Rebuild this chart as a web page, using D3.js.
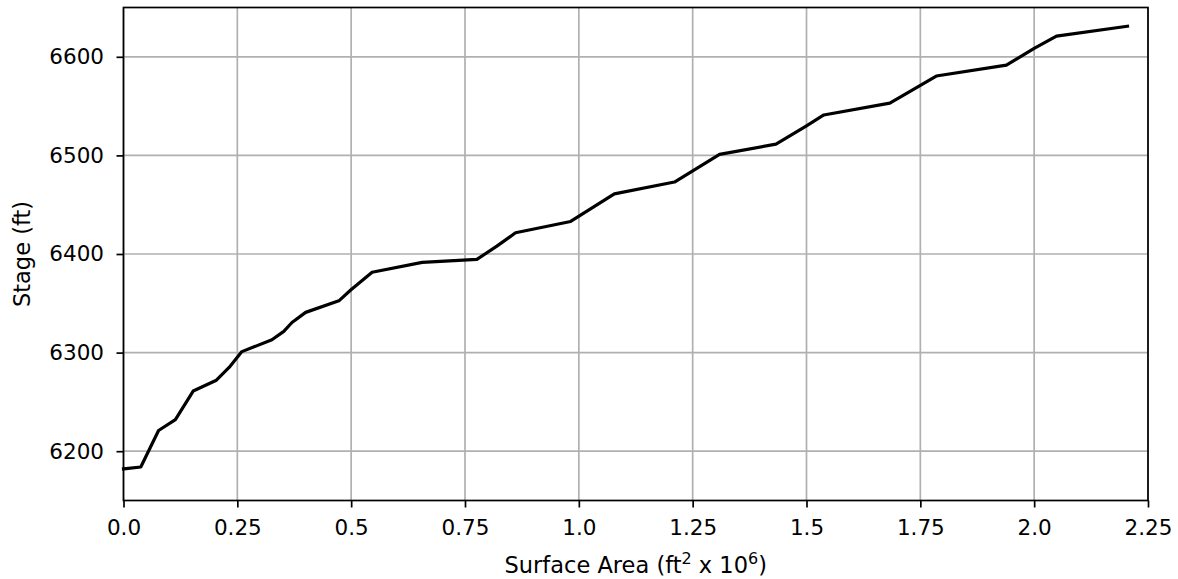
<!DOCTYPE html>
<html>
<head>
<meta charset="utf-8">
<script src="https://cdn.jsdelivr.net/npm/d3@7"></script>
<style>
  html, body { margin: 0; padding: 0; background: #fff; }
  svg { display: block; font-family: "DejaVu Sans", sans-serif; }
</style>
</head>
<body>
<svg id="chart" width="1178" height="579"></svg>
<script>
// Stage–surface area relation (area in millions of ft²)
const surfaceArea = [0.000, 0.038, 0.077, 0.114, 0.153, 0.204, 0.232, 0.260, 0.326, 0.352,
  0.370, 0.400, 0.473, 0.499, 0.546, 0.656, 0.776, 0.820, 0.861, 0.982, 1.030, 1.078, 1.210,
  1.260, 1.309, 1.433, 1.500, 1.538, 1.683, 1.735, 1.785, 1.939, 2.000, 2.049, 2.205];
const stage = [6182.0, 6184.0, 6221.0, 6232.0, 6261.0, 6272.0, 6285.0, 6301.0, 6313.0, 6321.5,
  6330.5, 6340.8, 6352.5, 6363.5, 6381.5, 6391.5, 6394.5, 6408.0, 6421.5, 6433.0, 6447.0, 6461.0, 6473.0,
  6487.0, 6501.0, 6511.5, 6530.0, 6541.0, 6553.0, 6567.0, 6580.5, 6591.5, 6608.5, 6621.0, 6631.0];

const xTicks = [0, 0.25, 0.5, 0.75, 1.0, 1.25, 1.5, 1.75, 2.0, 2.25];
const xTickLabels = ["0.0", "0.25", "0.5", "0.75", "1.0", "1.25", "1.5", "1.75", "2.0", "2.25"];
const yTicks = [6200, 6300, 6400, 6500, 6600];
const yTickLabels = ["6200", "6300", "6400", "6500", "6600"];
const xDomain = [0, 2.25];
const yDomain = [6150, 6650];

const TICK_FONT = 21.5;
const TITLE_FONT = 22.5;
const svg = d3.select("#chart");
const W = 1178, H = 579;
const margin = { left: 123.5, right: 30, top: 7.5, bottom: 78.5 };
const x = d3.scaleLinear().domain(xDomain).range([margin.left, W - margin.right]);
const y = d3.scaleLinear().domain(yDomain).range([H - margin.bottom, margin.top]);

// grid
const grid = svg.append("g").attr("stroke", "#b0b0b0").attr("stroke-width", 1.7);
grid.selectAll("line.gx").data(xTicks).join("line")
  .attr("x1", d => x(d)).attr("x2", d => x(d))
  .attr("y1", y(yDomain[0])).attr("y2", y(yDomain[1]));
grid.selectAll("line.gy").data(yTicks).join("line")
  .attr("y1", d => y(d)).attr("y2", d => y(d))
  .attr("x1", x(xDomain[0])).attr("x2", x(xDomain[1]));

// data line
const line = d3.line().x((d, i) => x(surfaceArea[i])).y(d => y(d));
svg.append("path").datum(stage)
  .attr("fill", "none").attr("stroke", "#000").attr("stroke-width", 3.2)
  .attr("stroke-linejoin", "round").attr("stroke-linecap", "square")
  .attr("d", line);

// axes
const xAxis = d3.axisBottom(x).tickValues(xTicks)
  .tickFormat((d, i) => xTickLabels[i]).tickSizeInner(7).tickSizeOuter(0).tickPadding(12);
const yAxis = d3.axisLeft(y).tickValues(yTicks)
  .tickFormat((d, i) => yTickLabels[i]).tickSizeInner(7).tickSizeOuter(0).tickPadding(12.5);

const gx = svg.append("g").attr("transform", `translate(0,${y(yDomain[0])})`).call(xAxis);
const gy = svg.append("g").attr("transform", `translate(${x(xDomain[0])},0)`).call(yAxis);
[gx, gy].forEach(g => {
  g.attr("font-size", TICK_FONT).attr("font-family", "DejaVu Sans, sans-serif");
  g.select(".domain").remove();
  g.selectAll("text").attr("fill", "#000");
  g.selectAll("line").attr("stroke", "#000").attr("stroke-width", 1.7);
});

// frame
svg.append("rect")
  .attr("x", x(xDomain[0])).attr("y", y(yDomain[1]))
  .attr("width", x(xDomain[1]) - x(xDomain[0])).attr("height", y(yDomain[0]) - y(yDomain[1]))
  .attr("fill", "none").attr("stroke", "#000").attr("stroke-width", 1.7);

// axis titles
const xt = svg.append("text")
  .attr("x", (x(xDomain[0]) + x(xDomain[1])) / 2).attr("y", 573)
  .attr("text-anchor", "middle").attr("font-size", TITLE_FONT).attr("fill", "#000");
xt.append("tspan").text("Surface Area (ft");
xt.append("tspan").text("2").attr("font-size", 16).attr("dy", -9);
xt.append("tspan").text(" x 10").attr("dy", 9);
xt.append("tspan").text("6").attr("font-size", 16).attr("dy", -9);
xt.append("tspan").text(")").attr("dy", 9);

svg.append("text")
  .attr("transform", `translate(29.5,${(y(yDomain[0]) + y(yDomain[1])) / 2}) rotate(-90)`)
  .attr("text-anchor", "middle").attr("font-size", TITLE_FONT).attr("fill", "#000")
  .text("Stage (ft)");
</script>
</body>
</html>
